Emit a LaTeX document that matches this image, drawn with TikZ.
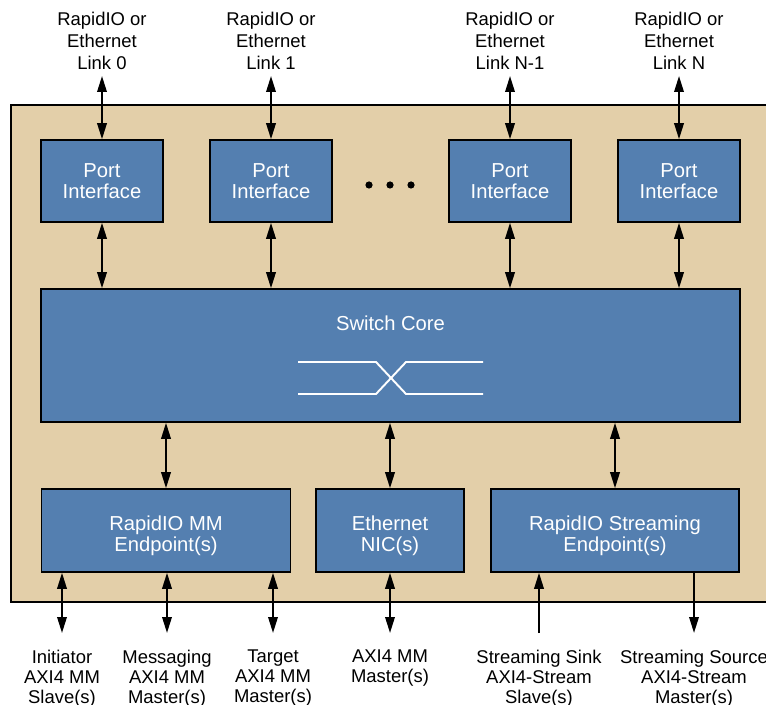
\documentclass[tikz,border=0pt]{standalone}
\usepackage{fontspec}
\setmainfont{Liberation Sans}
\usetikzlibrary{arrows.meta}
\definecolor{chassis}{RGB}{227,207,169}
\definecolor{blockblue}{RGB}{84,127,176}
\begin{document}
\begin{tikzpicture}[x=0.02cm, y=-0.02cm,
    block/.style={rectangle, draw=black, line width=0.9pt, fill=blockblue, text=white, align=center, inner sep=0pt, font=\fontsize{11.5}{12}\selectfont},
    port node/.style={block, minimum width=2.44cm, minimum height=1.64cm},
    end node/.style={block, minimum height=1.66cm},
    end text/.style={text=white, align=center, inner sep=0pt, yshift=-0.1cm, font=\fontsize{11.5}{12}\selectfont},
    link label/.style={align=center, inner xsep=0pt, inner ysep=3.6pt, anchor=south, font=\fontsize{10.5}{12.5}\selectfont},
    bus label/.style={align=center, inner xsep=0pt, inner ysep=9.4pt, anchor=north, font=\fontsize{10.5}{11.4}\selectfont},
    tip/.tip={Triangle[length=0.32cm,width=0.19cm]},
    both/.style={tip-tip, line width=1.1pt},
    into/.style={-tip, line width=1.1pt}]
    \useasboundingbox (0,0) rectangle (766,705);

    % outer device
    \draw[fill=chassis, line width=1.2pt] (11,105) rectangle (790,602);

    % ports
    \node[port node] (p0) at (102,181) {Port\\Interface};
    \node[port node] (p1) at (271,181) {Port\\Interface};
    \node[port node] (pn1) at (510,181) {Port\\Interface};
    \node[port node] (pn) at (679,181) {Port\\Interface};
    \foreach \dx in {369,390,411}
        \fill (\dx,185) circle (3.6);

    \node[link label] (l0) at (102,76) {RapidIO or\\Ethernet\\Link 0};
    \node[link label] (l1) at (271,76) {RapidIO or\\Ethernet\\Link 1};
    \node[link label] (ln1) at (510,76) {RapidIO or\\Ethernet\\Link N-1};
    \node[link label] (ln) at (679,76) {RapidIO or\\Ethernet\\Link N};

    % switch core
    \node[block, minimum width=13.98cm, minimum height=2.66cm] (core) at (390.5,355.5) {};
    \node[text=white, font=\fontsize{11.5}{12}\selectfont] (coretxt) at (390.5,323) {Switch Core};
    \draw[white, line width=1.1pt] (298,362) -- (376,362) -- (406,394) -- (483,394);
    \draw[white, line width=1.1pt] (298,394) -- (376,394) -- (406,362) -- (483,362);

    % endpoints
    \node[end node, minimum width=4.98cm, label={[end text]center:RapidIO MM\\Endpoint(s)}] (mm) at (166,530.5) {};
    \node[end node, minimum width=2.96cm, label={[end text]center:Ethernet\\NIC(s)}] (nic) at (390,530.5) {};
    \node[end node, minimum width=4.96cm, label={[end text]center:RapidIO Streaming\\Endpoint(s)}] (strm) at (615,530.5) {};

    \node[bus label] (b0) at (62,633) {Initiator\\AXI4 MM\\Slave(s)};
    \node[bus label] (b1) at (167,633) {Messaging\\AXI4 MM\\Master(s)};
    \node[bus label] (b2) at (273,633) {Target\\AXI4 MM\\Master(s)};
    \node[bus label] (b3) at (390,633) {AXI4 MM\\Master(s)};
    \node[bus label] (b4) at (539,633) {Streaming Sink\\AXI4-Stream\\Slave(s)};
    \node[bus label] (b5) at (694,633) {Streaming Source\\AXI4-Stream\\Master(s)};

    % connections
    \foreach \l/\p in {l0/p0, l1/p1, ln1/pn1, ln/pn} {
        \draw[both] (\l.south) -- (\p.north);
        \draw[both] (\p.south) -- (\p.south |- core.north);
    }
    \foreach \e in {mm, nic, strm}
        \draw[both] (\e.north |- core.south) -- (\e.north);
    \foreach \b in {b0, b1, b2}
        \draw[both] (\b.north |- mm.south) -- (\b.north);
    \draw[both] (b3.north |- nic.south) -- (b3.north);
    \draw[into] (b4.north) -- (b4.north |- strm.south);
    \draw[into] (b5.north |- strm.south) -- (b5.north);
\end{tikzpicture}
\end{document}
